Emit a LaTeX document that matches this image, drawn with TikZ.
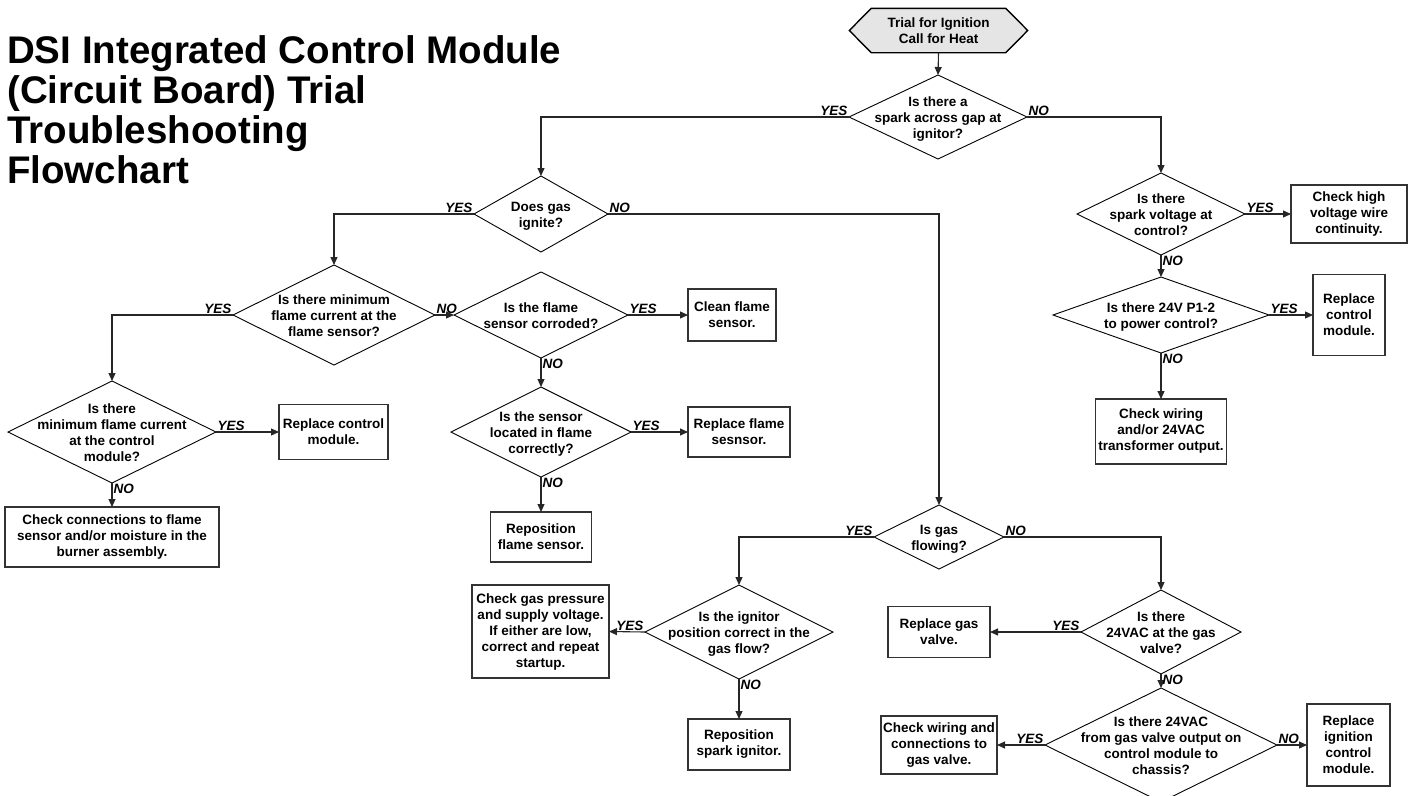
\documentclass[tikz,border=0pt]{standalone}
\usepackage{fontspec}
\setmainfont{Liberation Sans}
\usetikzlibrary{shapes.geometric,arrows.meta,backgrounds}
\newcommand{\dtxt}[1]{\makebox[0pt]{\raisebox{-5.5pt}[0pt][0pt]{\begin{tabular}[c]{@{}c@{}}#1\end{tabular}}}}
\begin{document}
\begin{tikzpicture}[x=1pt,y=-1pt,
  txt/.style={font=\fontsize{13.5}{16}\selectfont\bfseries},
  dia/.style={shape=diamond, draw=black, line width=0.9pt, inner sep=0pt, outer sep=0pt, txt},
  box/.style={shape=rectangle, draw=black!80, line width=1.2pt, inner sep=1pt, outer sep=0pt, align=center, txt},
  lbl/.style={font=\fontsize{13.5}{16}\selectfont\bfseries\itshape, inner sep=1pt},
  arr/.style={draw=black!85, line width=1.1pt, -{Triangle[length=8pt,width=7pt]}}]
\useasboundingbox (0,0) rectangle (1412,795);
% title
\node[anchor=north west, inner sep=0pt, align=left, font=\fontsize{38.5}{40}\selectfont\bfseries] (title) at (7,35) {DSI Integrated Control Module\\(Circuit Board) Trial\\Troubleshooting\\Flowchart};
% start
\node[shape=rectangle, minimum width=134, minimum height=44, inner sep=0pt, align=center, txt] (start) at (938.5,30.5) {Trial for Ignition\\Call for Heat};
\begin{scope}[on background layer]
\draw[line width=1.4pt, fill=black!10] (start.north west) -- (start.north east) -- ([xshift=22pt]start.east) -- (start.south east) -- (start.south west) -- ([xshift=-22pt]start.west) -- cycle;
\end{scope}
% diamonds
\node[dia, minimum width=178, minimum height=84] (d1) at (938,117) {\dtxt{Is there a\\spark across gap at\\ignitor?}};
\node[dia, minimum width=134, minimum height=76] (d2) at (541,214) {\dtxt{Does gas\\ignite?}};
\node[dia, minimum width=168, minimum height=82] (d3) at (1161,214) {\dtxt{Is there\\spark voltage at\\control?}};
\node[dia, minimum width=216, minimum height=76] (d5) at (1161,315) {\dtxt{Is there 24V P1-2\\to power control?}};
\node[dia, minimum width=202, minimum height=100] (d4) at (334,315) {\dtxt{Is there minimum\\flame current at the\\flame sensor?}};
\node[dia, minimum width=174, minimum height=86] (d6) at (541,315) {\dtxt{Is the flame\\sensor corroded?}};
\node[dia, minimum width=180, minimum height=90] (d8) at (541,432) {\dtxt{Is the sensor\\located in flame\\correctly?}};
\node[dia, minimum width=208, minimum height=102] (d9) at (112,432) {\dtxt{Is there\\minimum flame current\\at the control\\module?}};
\node[dia, minimum width=130, minimum height=64] (d7) at (939,537) {\dtxt{Is gas\\flowing?}};
\node[dia, minimum width=188, minimum height=94] (d10) at (739,632) {\dtxt{Is the ignitor\\position correct in the\\gas flow?}};
\node[dia, minimum width=160, minimum height=84] (d11) at (1161,632) {\dtxt{Is there\\24VAC at the gas\\valve?}};
\node[dia, minimum width=232, minimum height=114] (d12) at (1161,745) {\dtxt{Is there 24VAC\\from gas valve output on\\control module to\\chassis?}};
% boxes
\node[box, minimum width=116, minimum height=58] (checkhv) at (1349,214) {Check high\\voltage wire\\continuity.};
\node[box, minimum width=72, minimum height=81] (replctlb) at (1349,315) {Replace\\control\\module.};
\node[box, minimum width=131, minimum height=65] (chkwire) at (1161,431.5) {Check wiring\\and/or 24VAC\\transformer output.};
\node[box, minimum width=88, minimum height=52] (clean) at (732,315) {Clean flame\\sensor.};
\node[box, minimum width=102, minimum height=50] (replflame) at (739,432) {Replace flame\\sesnsor.};
\node[box, minimum width=101, minimum height=50] (reposflame) at (541,537) {Reposition\\flame sensor.};
\node[box, minimum width=109, minimum height=55] (replctl) at (333.5,432) {Replace control\\module.};
\node[box, minimum width=214, minimum height=60] (chkconn) at (112,537) {Check connections to flame\\sensor and/or moisture in the\\burner assembly.};
\node[box, minimum width=137, minimum height=93] (chkgas) at (540.5,631.5) {Check gas pressure\\and supply voltage.\\If either are low,\\correct and repeat\\startup.};
\node[box, minimum width=102, minimum height=51] (repspark) at (739,744.5) {Reposition\\spark ignitor.};
\node[box, minimum width=102, minimum height=51] (replgas) at (939,632) {Replace gas\\valve.};
\node[box, minimum width=116, minimum height=58] (chkwire2) at (939,745) {Check wiring and\\connections to\\gas valve.};
\node[box, minimum width=83, minimum height=82] (replign) at (1348.5,745) {Replace\\ignition\\control\\module.};
% connectors
\draw[arr] (start.south) -- (d1.north);
\draw[arr] (d1.west) node[lbl, anchor=south east]{YES} -| (d2.north);
\draw[arr] (d1.east) node[lbl, anchor=south west]{NO} -| (d3.north);
\draw[arr] (d2.west) node[lbl, anchor=south east]{YES} -| (d4.north);
\draw[arr] (d2.east) node[lbl, anchor=south west]{NO} -| (d7.north);
\draw[arr] (d3.east) node[lbl, anchor=south west]{YES} -- (checkhv.west);
\draw[arr] (d3.south) node[lbl, anchor=north west]{NO} -- (d5.north);
\draw[arr] (d5.east) node[lbl, anchor=south west]{YES} -- (replctlb.west);
\draw[arr] (d5.south) node[lbl, anchor=north west]{NO} -- (chkwire.north);
\draw[arr] (d4.west) node[lbl, anchor=south east]{YES} -| (d9.north);
\draw[arr] (d4.east) node[lbl, anchor=south west]{NO} -- (d6.west);
\draw[arr] (d6.east) node[lbl, anchor=south west]{YES} -- (clean.west);
\draw[arr] (d6.south) node[lbl, anchor=north west]{NO} -- (d8.north);
\draw[arr] (d8.east) node[lbl, anchor=south west]{YES} -- (replflame.west);
\draw[arr] (d8.south) node[lbl, anchor=north west]{NO} -- (reposflame.north);
\draw[arr] (d9.east) node[lbl, anchor=south west]{YES} -- (replctl.west);
\draw[arr] (d9.south) node[lbl, anchor=north west]{NO} -- (chkconn.north);
\draw[arr] (d7.west) node[lbl, anchor=south east]{YES} -| (d10.north);
\draw[arr] (d7.east) node[lbl, anchor=south west]{NO} -| (d11.north);
\draw[arr] (d10.west) node[lbl, anchor=south east]{YES} -- (chkgas.east);
\draw[arr] (d10.south) node[lbl, anchor=north west]{NO} -- (repspark.north);
\draw[arr] (d11.west) node[lbl, anchor=south east]{YES} -- (replgas.east);
\draw[arr] (d11.south) node[lbl, anchor=north west]{NO} -- (d12.north);
\draw[arr] (d12.west) node[lbl, anchor=south east]{YES} -- (chkwire2.east);
\draw[arr] (d12.east) node[lbl, anchor=south west]{NO} -- (replign.west);
\end{tikzpicture}
\end{document}
